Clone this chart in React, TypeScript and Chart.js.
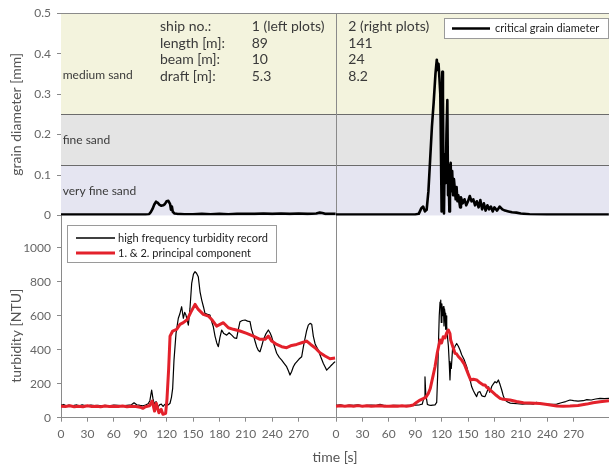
import React, { useEffect, useRef } from 'react';
import { Chart, registerables } from 'chart.js';

Chart.register(...registerables);

// ---------- axes ----------
const timeTickLabels = [0, 30, 60, 90, 120, 150, 180, 210, 240, 270];
const grainTickLabels = [0, 0.1, 0.2, 0.3, 0.4, 0.5];
const turbidityTickLabels = [0, 200, 400, 600, 800, 1000];
const LEFT_SPAN = 312.5; // seconds shown for ship 1; ship 2 record starts here on the shared axis
const RIGHT_SPAN = 310.2;
const GRAIN_MAX = 0.5;
const TURB_MAX = 1190;

// ---------- sand classes ----------
const sandZoneBounds = [0, 0.125, 0.25, 0.5];
const sandZoneNames = ['very fine sand', 'fine sand', 'medium sand'];
const sandZoneColors = ['#e5e5f1', '#e4e4e4', '#f3f3dd'];

// ---------- ship info ----------
const shipFields = ['ship no.:', 'length [m]:', 'beam [m]:', 'draft [m]:'];
const ship1Values = ['1 (left plots)', '89', '10', '5.3'];
const ship2Values = ['2 (right plots)', '141', '24', '8.2'];

// ---------- legend labels ----------
const grainLabel = 'critical grain diameter';
const recordLabel = 'high frequency turbidity record';
const pcLabel = '1. & 2. principal component';

// ---------- critical grain diameter [mm], [time s, value] ----------
const grainShip1: [number, number][] = [
  [0, 0.002], [10, 0.002], [20, 0.002], [30, 0.002], [40, 0.002], [50, 0.002], [60, 0.002], [70, 0.002],
  [80, 0.002], [90, 0.002], [96, 0.002], [100, 0.003], [102, 0.008], [104, 0.016], [106, 0.027], [108, 0.034],
  [110, 0.031], [112, 0.026], [114, 0.024], [116, 0.025], [118, 0.028], [120, 0.035], [122, 0.036], [124, 0.028],
  [125, 0.014], [126, 0.022], [127, 0.009], [129, 0.005], [132, 0.004], [140, 0.003], [150, 0.003], [160, 0.004],
  [170, 0.003], [180, 0.004], [190, 0.003], [200, 0.004], [210, 0.004], [220, 0.004], [230, 0.005], [240, 0.004],
  [250, 0.005], [260, 0.004], [270, 0.005], [280, 0.004], [290, 0.005], [294, 0.007], [297, 0.006], [300, 0.004],
  [305, 0.004], [312, 0.004],
];
const grainShip2: [number, number][] = [
  [0, 0.002], [20, 0.002], [40, 0.002], [60, 0.002], [80, 0.002], [90, 0.002], [94, 0.004], [97, 0.018],
  [99, 0.022], [101, 0.010], [103, 0.014], [105, 0.06], [107, 0.14], [109, 0.22], [111, 0.28], [113, 0.35],
  [114.5, 0.385], [115.5, 0.36], [116.5, 0.375], [117.5, 0.34], [118.5, 0.30], [119.3, 0.15], [120, 0.01],
  [120.8, 0.355], [121.5, 0.30], [122, 0.10], [122.7, 0.005], [123.5, 0.15], [124.5, 0.08], [125.5, 0.20],
  [126.5, 0.285], [127.3, 0.05], [128, 0.10], [128.8, 0.01], [129.5, 0.12], [130.3, 0.13], [131, 0.06],
  [132, 0.11], [133, 0.05], [134, 0.09], [135, 0.065], [136, 0.04], [137, 0.07], [138, 0.035], [139, 0.05],
  [141, 0.02], [142, 0.045], [144, 0.03], [146, 0.04], [148, 0.025], [150, 0.035], [152, 0.048], [154, 0.035],
  [156, 0.04], [158, 0.025], [160, 0.035], [162, 0.02], [164, 0.038], [166, 0.015], [168, 0.03], [170, 0.012],
  [172, 0.025], [174, 0.015], [176, 0.022], [178, 0.01], [180, 0.02], [183, 0.012], [186, 0.022], [189, 0.015],
  [192, 0.012], [196, 0.01], [200, 0.008], [205, 0.007], [210, 0.005], [220, 0.003], [240, 0.002], [260, 0.002],
  [280, 0.002], [300, 0.002], [310, 0.002],
];

// ---------- turbidity [NTU], high frequency record ----------
const recordShip1: [number, number][] = [
  [0, 72], [3, 78], [6, 70], [9, 75], [12, 68], [15, 73], [18, 75], [21, 70], [24, 76], [27, 72], [30, 70],
  [34, 74], [38, 71], [42, 73], [46, 70], [50, 73], [55, 70], [60, 74], [65, 72], [70, 70], [75, 73], [80, 76],
  [83, 88], [86, 76], [90, 72], [93, 70], [96, 75], [99, 82], [101, 100], [103, 163], [104.5, 112], [106, 80],
  [108, 95], [110, 62], [112, 76], [114, 80], [116, 66], [118, 78], [120, 72], [122, 76], [123.9, 85],
  [125.5, 120], [126.9, 173], [128.4, 339], [130.7, 496], [133.3, 585], [135, 610], [137.1, 653], [139, 585],
  [140.5, 620], [142, 604], [144.7, 545], [146.5, 640], [148.5, 790], [150.5, 845], [152.3, 859], [154, 850],
  [156, 829], [158, 741], [159.9, 692], [162, 650], [163.6, 614], [166.5, 608], [169.3, 604], [171, 570],
  [173.1, 535], [175, 480], [177, 440], [178.8, 418], [180.5, 470], [182.6, 516], [185, 495], [188.3, 486],
  [191, 500], [194, 486], [197, 470], [199.6, 467], [201.5, 520], [203.4, 565], [206, 572], [209.1, 575],
  [212, 568], [214.8, 565], [216.5, 520], [218.6, 486], [220.5, 450], [222.3, 418], [224.3, 395], [226.1, 388],
  [228, 420], [229.9, 457], [232.5, 490], [235.6, 516], [237.5, 500], [239.4, 476], [242, 430], [245.1, 379],
  [248, 355], [250.8, 339], [253.5, 320], [256.4, 300], [258.5, 275], [260.2, 251], [262, 270], [264, 300],
  [266, 318], [267.8, 329], [270.5, 345], [273.5, 359], [275.5, 420], [277.3, 467], [279, 510], [281, 545],
  [283, 555], [284.9, 550], [286.7, 480], [288.6, 437], [290.5, 415], [292.4, 398], [295, 360], [298, 320],
  [300, 300], [301.9, 280], [303.8, 290], [305.7, 300], [307.5, 310], [309.4, 320], [311.5, 330],
];
const recordShip2: [number, number][] = [
  [0, 72], [5, 75], [10, 70], [15, 74], [20, 72], [25, 75], [30, 70], [35, 73], [40, 74], [45, 72], [50, 78],
  [55, 72], [60, 70], [65, 73], [70, 72], [75, 70], [80, 73], [85, 72], [90, 74], [95, 76], [98, 80], [100, 120],
  [101.1, 241], [102, 140], [103.8, 78], [106, 74], [108, 72], [110, 74], [112.5, 75], [114.4, 90], [115.5, 250],
  [116.5, 450], [117.3, 600], [118.2, 680], [119, 692], [119.6, 560], [120.3, 670], [121, 600], [122, 653],
  [122.7, 540], [123.3, 640], [123.9, 614], [124.6, 520], [125.2, 600], [125.8, 540], [126.6, 480], [127.7, 420],
  [128.6, 330], [129.5, 222], [130.3, 320], [131, 290], [132.6, 418], [134, 400], [135.2, 420], [137.1, 437],
  [139, 420], [140.9, 398], [142.8, 370], [145.8, 339], [148.5, 300], [150.4, 261], [152, 230], [154.2, 182],
  [156, 160], [158, 140], [159.8, 124], [161.5, 150], [163.6, 153], [165.5, 130], [167.4, 125], [169.3, 124],
  [171, 145], [172.5, 165], [173.5, 182], [174.5, 150], [175.5, 160], [177, 185], [179, 200], [180.7, 212],
  [182.5, 205], [184.5, 222], [186.4, 195], [188.3, 163], [190, 130], [192, 104], [195, 92], [198, 86],
  [201.5, 84], [206, 82], [212, 80], [218, 83], [224.2, 80], [228, 90], [232, 82], [238, 80], [244, 78],
  [250.8, 80], [256, 88], [261, 95], [265.9, 104], [270, 100], [275, 98], [281, 100], [285, 106], [290, 104],
  [295, 110], [300, 114], [305, 112], [310.2, 114],
];

// ---------- turbidity [NTU], 1. & 2. principal component ----------
const pcShip1: [number, number][] = [
  [0, 68], [5, 66], [10, 70], [15, 64], [20, 68], [25, 65], [30, 70], [35, 66], [40, 68], [45, 64], [50, 69],
  [55, 66], [60, 68], [65, 66], [70, 69], [75, 65], [80, 68], [85, 66], [90, 62], [93, 55], [96, 64],
  [100.6, 70], [103.6, 98], [106.3, 39], [108.2, 85], [111.3, 29], [113.9, 49], [115.8, 20], [118.9, 26],
  [120.4, 108], [122.3, 284], [123.9, 480], [126.9, 510], [131.4, 520], [135.2, 549], [139, 559], [143.6, 578],
  [147.3, 618], [152.3, 667], [156, 637], [161.7, 608], [167.4, 598], [171.2, 578], [176.9, 539], [180.7, 549],
  [184.5, 559], [190.2, 529], [195.8, 520], [203.4, 510], [211, 496], [218.6, 480], [226.1, 461], [231.8, 461],
  [235.6, 480], [239.4, 451], [245.1, 431], [250.8, 418], [256.4, 412], [262.1, 425], [267.8, 431],
  [273.5, 441], [279.2, 451], [283.7, 431], [288.6, 412], [294.3, 382], [300, 363], [305.7, 347], [311.4, 351],
];
const pcShip2: [number, number][] = [
  [0, 68], [5, 70], [10, 67], [15, 70], [20, 68], [25, 71], [30, 68], [35, 70], [40, 67], [45, 69], [50, 70],
  [55, 68], [60, 67], [65, 69], [70, 68], [75, 70], [80, 68], [84, 70], [87.9, 75], [91, 88], [95.5, 104],
  [99, 112], [102, 120], [104.9, 143], [107, 170], [110, 240], [112.5, 300], [115, 380], [118.2, 457],
  [120, 440], [121.8, 476], [123.9, 470], [125.8, 500], [127.7, 516], [129.5, 495], [130.3, 457], [132.6, 420],
  [135.2, 379], [137.1, 375], [139, 360], [142.8, 339], [145.8, 315], [148.5, 280], [150.4, 255], [153, 222],
  [156, 226], [159.8, 222], [163.6, 205], [167.4, 192], [169.3, 192], [171.5, 178], [175, 163], [178, 150],
  [182, 132], [186.4, 114], [190, 108], [197.7, 104], [205, 95], [212.9, 88], [220, 86], [231.8, 84], [240, 78],
  [250.8, 69], [258, 68], [265.9, 69], [275, 72], [284.9, 80], [292, 88], [300, 94], [305, 97], [310.2, 100],
];

const FONT = 'Lato, "Liberation Sans", sans-serif';
const AXIS_GREY = '#8a8a8a';
const TICK_TEXT = '#666666';
const TITLE_TEXT = '#555555';
const LABEL_TEXT = '#3a3a3a';
const RED = '#e3212b';

const toPoints = (rows: [number, number][], shift: number) => rows.map(([t, v]) => ({ x: t + shift, y: v }));

const decorPlugin = {
  id: 'panelDecor',
  beforeDatasetsDraw(chart: any) {
    const { ctx, chartArea: ca, scales } = chart;
    const yT = scales.yTop;
    const xS = scales.x;
    ctx.save();
    for (let i = 0; i < sandZoneNames.length; i++) {
      const yLow = yT.getPixelForValue(sandZoneBounds[i]);
      const yHigh = yT.getPixelForValue(sandZoneBounds[i + 1]);
      ctx.fillStyle = sandZoneColors[i];
      ctx.fillRect(ca.left, yHigh, ca.right - ca.left, yLow - yHigh);
    }
    ctx.lineWidth = 1;
    for (let i = 1; i < sandZoneBounds.length; i++) {
      const y = Math.round(yT.getPixelForValue(sandZoneBounds[i])) + 0.5;
      ctx.strokeStyle = i === sandZoneBounds.length - 1 ? AXIS_GREY : '#6b6b6b';
      ctx.beginPath();
      ctx.moveTo(ca.left, y);
      ctx.lineTo(ca.right, y);
      ctx.stroke();
    }
    const xd = Math.round(xS.getPixelForValue(LEFT_SPAN)) + 0.5;
    ctx.strokeStyle = AXIS_GREY;
    ctx.beginPath();
    ctx.moveTo(xd, ca.top);
    ctx.lineTo(xd, ca.bottom);
    ctx.stroke();

    // sand class names
    const zoneLabelAt = [0.06, 0.186, 0.347];
    ctx.fillStyle = LABEL_TEXT;
    ctx.font = `12px ${FONT}`;
    ctx.textAlign = 'left';
    ctx.textBaseline = 'middle';
    sandZoneNames.forEach((name, i) => {
      ctx.fillText(name, ca.left + 1.7, yT.getPixelForValue(zoneLabelAt[i]));
    });

    // ship table
    ctx.font = `14px ${FONT}`;
    const colField = xS.getPixelForValue(112.5);
    const col1 = xS.getPixelForValue(216.7);
    const col2 = xS.getPixelForValue(LEFT_SPAN + 14);
    shipFields.forEach((f, i) => {
      const y = ca.top + 13 + i * 16.8;
      ctx.fillText(f, colField, y);
      ctx.fillText(ship1Values[i], col1, y);
      ctx.fillText(ship2Values[i], col2, y);
    });
    ctx.restore();
  },
  afterDatasetsDraw(chart: any) {
    const { ctx, chartArea: ca, scales } = chart;
    const yB = scales.yBot;
    ctx.save();
    ctx.textAlign = 'left';
    ctx.textBaseline = 'middle';

    // top legend
    const tl = ca.right - 164.5;
    const tt = Math.round(ca.top) + 5.5;
    ctx.fillStyle = '#ffffff';
    ctx.fillRect(tl, tt, 164, 20);
    ctx.strokeStyle = '#9a9a9a';
    ctx.lineWidth = 1;
    ctx.strokeRect(tl, tt, 164, 20);
    ctx.strokeStyle = '#000000';
    ctx.lineWidth = 2.5;
    ctx.beginPath();
    ctx.moveTo(tl + 7.5, tt + 10);
    ctx.lineTo(tl + 45.5, tt + 10);
    ctx.stroke();
    ctx.fillStyle = '#222222';
    ctx.font = `11px ${FONT}`;
    ctx.fillText(grainLabel, tl + 50.5, tt + 10);

    // bottom legend
    const bl = ca.left + 6.5;
    const bt = Math.round(yB.top) + 10.5;
    ctx.fillStyle = '#ffffff';
    ctx.fillRect(bl, bt, 209, 37);
    ctx.strokeStyle = '#9a9a9a';
    ctx.lineWidth = 1;
    ctx.strokeRect(bl, bt, 209, 37);
    ctx.strokeStyle = '#000000';
    ctx.lineWidth = 1.3;
    ctx.beginPath();
    ctx.moveTo(bl + 8.5, bt + 12.5);
    ctx.lineTo(bl + 47.5, bt + 12.5);
    ctx.stroke();
    ctx.strokeStyle = RED;
    ctx.lineWidth = 3;
    ctx.beginPath();
    ctx.moveTo(bl + 8.5, bt + 27.5);
    ctx.lineTo(bl + 47.5, bt + 27.5);
    ctx.stroke();
    ctx.fillStyle = '#222222';
    ctx.font = `11px ${FONT}`;
    ctx.fillText(recordLabel, bl + 50.5, bt + 12.5);
    ctx.fillText(pcLabel, bl + 50.5, bt + 27.5);
    ctx.restore();
  },
  afterDraw(chart: any) {
    const { ctx, scales } = chart;
    const yT = scales.yTop;
    const yB = scales.yBot;
    ctx.save();
    ctx.fillStyle = TITLE_TEXT;
    ctx.font = `14px ${FONT}`;
    ctx.textAlign = 'center';
    ctx.textBaseline = 'middle';
    const draw = (txt: string, cy: number) => {
      ctx.save();
      ctx.translate(16.5, cy);
      ctx.rotate(-Math.PI / 2);
      ctx.fillText(txt, 0, 0);
      ctx.restore();
    };
    draw('grain diameter [mm]', (yT.top + yT.bottom) / 2);
    const t0 = yB.getPixelForValue(turbidityTickLabels[0]);
    const t1 = yB.getPixelForValue(turbidityTickLabels[turbidityTickLabels.length - 1]);
    draw('turbidity [NTU]', (t0 + t1) / 2 + 3);
    ctx.restore();
  },
};

export default function App() {
  const ref = useRef<HTMLCanvasElement>(null);
  useEffect(() => {
    document.body.style.margin = '0';
    const canvas = ref.current!;
    const tickFont = { family: FONT, size: 12 };
    const yGrid = { drawOnChartArea: false, drawTicks: true, tickLength: 4, color: AXIS_GREY };
    const chart = new Chart(canvas, {
      type: 'line',
      data: {
        datasets: [
          { label: pcLabel, data: toPoints(pcShip1, 0), yAxisID: 'yBot', borderColor: RED, borderWidth: 3, order: 0 },
          { label: pcLabel, data: toPoints(pcShip2, LEFT_SPAN), yAxisID: 'yBot', borderColor: RED, borderWidth: 3, order: 0 },
          { label: recordLabel, data: toPoints(recordShip1, 0), yAxisID: 'yBot', borderColor: '#000', borderWidth: 1.2, order: 1 },
          { label: recordLabel, data: toPoints(recordShip2, LEFT_SPAN), yAxisID: 'yBot', borderColor: '#000', borderWidth: 1.2, order: 1 },
          { label: grainLabel, data: toPoints(grainShip1, 0), yAxisID: 'yTop', borderColor: '#000', borderWidth: 2.6, order: 2 },
          { label: grainLabel, data: toPoints(grainShip2, LEFT_SPAN), yAxisID: 'yTop', borderColor: '#000', borderWidth: 2.6, order: 2 },
        ] as any,
      },
      options: {
        responsive: false,
        animation: false,
        events: [],
        layout: { padding: { top: 13, left: 0, right: 0, bottom: 0 } },
        elements: { point: { radius: 0 }, line: { tension: 0, borderJoinStyle: 'round' } },
        plugins: { legend: { display: false }, tooltip: { enabled: false }, title: { display: false } },
        scales: {
          x: {
            type: 'linear',
            min: 0,
            max: LEFT_SPAN + RIGHT_SPAN,
            afterBuildTicks: (s: any) => {
              s.ticks = [
                ...timeTickLabels.map((v) => ({ value: v })),
                ...timeTickLabels.map((v) => ({ value: v + LEFT_SPAN })),
              ];
            },
            afterFit: (s: any) => {
              s.height = 46.3;
            },
            ticks: {
              autoSkip: false,
              maxRotation: 0,
              padding: 5,
              color: TICK_TEXT,
              font: tickFont,
              callback: (v: any) => String(Math.round(v >= LEFT_SPAN - 0.01 ? v - LEFT_SPAN : v)),
            },
            grid: { drawOnChartArea: false, drawTicks: true, tickLength: 4, color: AXIS_GREY },
            border: { color: AXIS_GREY },
            title: {
              display: true,
              text: 'time [s]',
              color: TITLE_TEXT,
              font: { family: FONT, size: 14, lineHeight: 1 },
              padding: 0,
            },
          },
          yBot: {
            type: 'linear',
            position: 'left',
            stack: 'panels',
            stackWeight: 1,
            weight: 0,
            min: 0,
            max: TURB_MAX,
            afterBuildTicks: (s: any) => {
              s.ticks = turbidityTickLabels.map((v) => ({ value: v }));
            },
            afterFit: (s: any) => {
              s.width = 61;
            },
            ticks: { padding: 6, color: TICK_TEXT, font: tickFont, callback: (v: any) => String(v) },
            grid: yGrid,
            border: { color: AXIS_GREY },
          },
          yTop: {
            type: 'linear',
            position: 'left',
            stack: 'panels',
            stackWeight: 1,
            weight: 1,
            min: 0,
            max: GRAIN_MAX,
            afterBuildTicks: (s: any) => {
              s.ticks = grainTickLabels.map((v) => ({ value: v }));
            },
            afterFit: (s: any) => {
              s.width = 61;
            },
            ticks: { padding: 6, color: TICK_TEXT, font: tickFont, callback: (v: any) => String(v) },
            grid: yGrid,
            border: { color: AXIS_GREY },
          },
        } as any,
      },
      plugins: [decorPlugin],
    });
    return () => chart.destroy();
  }, []);
  return (
    <div style={{ position: 'absolute', left: 0, top: 0, width: 609, height: 464 }}>
      <canvas ref={ref} width={609} height={464} style={{ display: 'block' }} />
    </div>
  );
}
